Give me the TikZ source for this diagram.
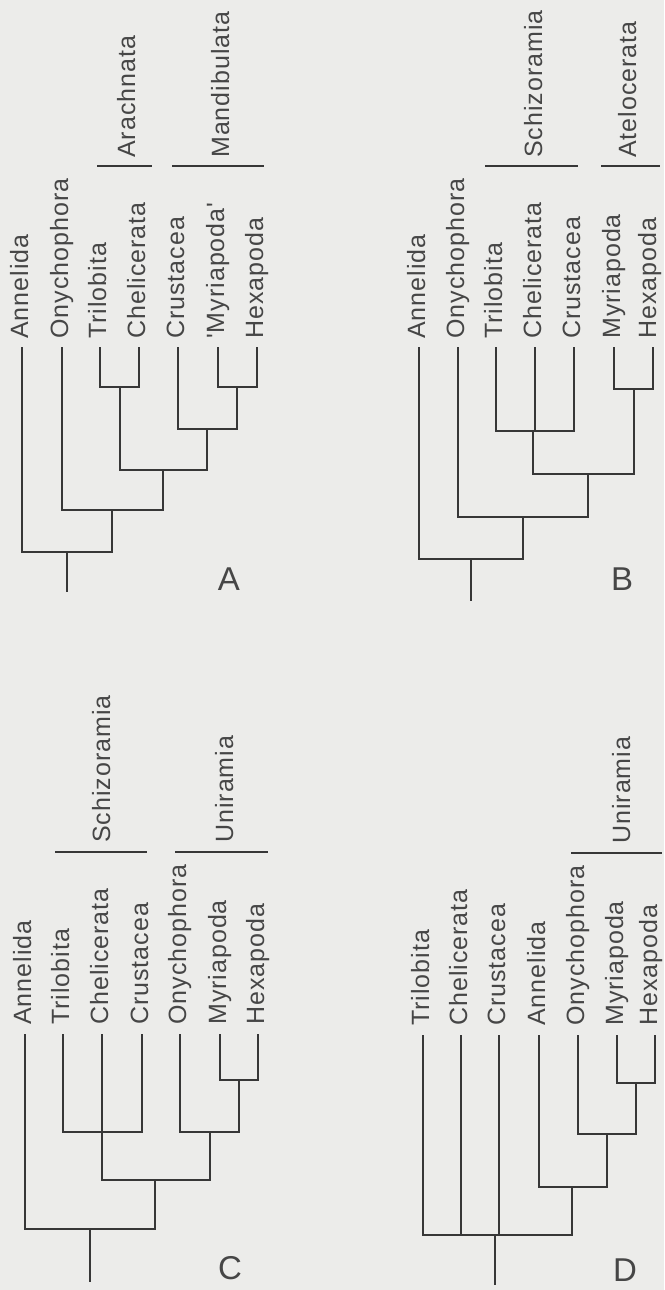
\documentclass[tikz,border=0pt]{standalone}
\usepackage{fontspec}
\newfontfamily\labfont[LetterSpace=4]{Liberation Sans}
\newfontfamily\letfont{Liberation Sans}
\definecolor{paper}{RGB}{236,236,234}
\definecolor{ink}{RGB}{55,55,55}
\definecolor{txt}{RGB}{70,70,70}
\tikzset{
  branch/.style={draw=ink, line width=1.9pt},
  barline/.style={draw=ink, line width=1.9pt},
  tiplab/.style={rotate=90, anchor=base west, inner sep=0pt, text=txt,
    font=\labfont\fontsize{25}{30}\selectfont},
  panel/.style={inner sep=0pt, text=txt, font=\letfont\fontsize{33}{38}\selectfont}
}
\begin{document}
\begin{tikzpicture}[x=1pt,y=-1pt]
\fill[paper] (0,0) rectangle (664,1290);
\useasboundingbox (0,0) rectangle (664,1290);

% ================= Panel A =================
\foreach \n/\x/\o/\t in {aA/22/6/Annelida, aO/62/6/Onychophora, aT/100/6/Trilobita,
  aC/139/6/Chelicerata, aCr/178/6/Crustacea, aM/218/6/{'Myriapoda'}, aH/257/6/Hexapoda}{
  \coordinate (\n) at (\x,347);
  \node[tiplab] (l\n) at (\x+\o,339) {\t};
}
\coordinate (a1) at (120,387);
\coordinate (a2) at (237,387);
\coordinate (a3) at (207,429);
\coordinate (a4) at (163,470);
\coordinate (a5) at (112,510);
\coordinate (a6) at (67,552);
\coordinate (ar) at (67,592);
\draw[branch] (aT) |- (a1) -| (aC);
\draw[branch] (aM) |- (a2) -| (aH);
\draw[branch] (aCr) |- (a3) -| (a2);
\draw[branch] (a1) |- (a4) -| (a3);
\draw[branch] (aO) |- (a5) -| (a4);
\draw[branch] (aA) |- (a6) -| (a5);
\draw[branch] (a6) -- (ar);
\coordinate (ab1s) at (97,166); \coordinate (ab1e) at (152,166);
\coordinate (ab2s) at (172,166); \coordinate (ab2e) at (264,166);
\draw[barline] (ab1s) -- (ab1e);
\draw[barline] (ab2s) -- (ab2e);
\node[tiplab] (gA1) at (135,158) {Arachnata};
\node[tiplab] (gA2) at (229,158) {Mandibulata};
\node[panel] (pA) at (229,579) {A};

% ================= Panel B =================
\foreach \n/\x/\o/\t in {bA/419/6/Annelida, bO/458/6/Onychophora, bT/496/6/Trilobita,
  bC/535/6/Chelicerata, bCr/574/6/Crustacea, bM/614/6/Myriapoda, bH/653/3/Hexapoda}{
  \coordinate (\n) at (\x,347);
  \node[tiplab] (l\n) at (\x+\o,339) {\t};
}
\coordinate (b1) at (634,389);
\coordinate (b2) at (533,431);
\coordinate (b3) at (588,474);
\coordinate (b4) at (523,517);
\coordinate (b5) at (471,559);
\coordinate (br) at (471,601);
\draw[branch] (bM) |- (b1) -| (bH);
\draw[branch] (bT) |- (b2) -| (bCr);
\draw[branch] (bC) -- (bC |- b2);
\draw[branch] (b2) |- (b3) -| (b1);
\draw[branch] (bO) |- (b4) -| (b3);
\draw[branch] (bA) |- (b5) -| (b4);
\draw[branch] (b5) -- (br);
\coordinate (bb1s) at (485,166); \coordinate (bb1e) at (578,166);
\coordinate (bb2s) at (601,166); \coordinate (bb2e) at (660,166);
\draw[barline] (bb1s) -- (bb1e);
\draw[barline] (bb2s) -- (bb2e);
\node[tiplab] (gB1) at (542,158) {Schizoramia};
\node[tiplab] (gB2) at (636,158) {Atelocerata};
\node[panel] (pB) at (622,579) {B};

% ================= Panel C =================
\foreach \n/\x/\o/\t in {cA/25/6/Annelida, cT/63/6/Trilobita, cC/102/6/Chelicerata,
  cCr/142/6/Crustacea, cO/180/6/Onychophora, cM/220/6/Myriapoda, cH/258/6/Hexapoda}{
  \coordinate (\n) at (\x,1034);
  \node[tiplab] (l\n) at (\x+\o,1025) {\t};
}
\coordinate (c1) at (239,1080);
\coordinate (c2) at (102,1132);
\coordinate (c3) at (210,1132);
\coordinate (c4) at (155,1180);
\coordinate (c5) at (90,1229);
\coordinate (cr) at (90,1282);
\draw[branch] (cM) |- (c1) -| (cH);
\draw[branch] (cT) |- (c2) -| (cCr);
\draw[branch] (cO) |- (c3) -| (c1);
\draw[branch] (cC) |- (c4) -| (c3);
\draw[branch] (cA) |- (c5) -| (c4);
\draw[branch] (c5) -- (cr);
\coordinate (cb1s) at (55,852); \coordinate (cb1e) at (147,852);
\coordinate (cb2s) at (175,852); \coordinate (cb2e) at (268,852);
\draw[barline] (cb1s) -- (cb1e);
\draw[barline] (cb2s) -- (cb2e);
\node[tiplab] (gC1) at (110,843) {Schizoramia};
\node[tiplab] (gC2) at (233,843) {Uniramia};
\node[panel] (pC) at (230,1268) {C};

% ================= Panel D =================
\foreach \n/\x/\o/\t in {dT/423/6/Trilobita, dC/461/6/Chelicerata, dCr/499/6/Crustacea,
  dA/539/6/Annelida, dO/578/6/Onychophora, dM/617/6/Myriapoda, dH/655/2/Hexapoda}{
  \coordinate (\n) at (\x,1035);
  \node[tiplab] (l\n) at (\x+\o,1026) {\t};
}
\coordinate (d1) at (636,1083);
\coordinate (d2) at (607,1134);
\coordinate (d3) at (572,1187);
\coordinate (d4) at (495,1235);
\coordinate (dr) at (495,1285);
\draw[branch] (dM) |- (d1) -| (dH);
\draw[branch] (dO) |- (d2) -| (d1);
\draw[branch] (dA) |- (d3) -| (d2);
\draw[branch] (dT) |- (d4) -| (d3);
\draw[branch] (dC) -- (dC |- d4);
\draw[branch] (dCr) -- (dCr |- d4);
\draw[branch] (d4) -- (dr);
\coordinate (db1s) at (571,853); \coordinate (db1e) at (662,853);
\draw[barline] (db1s) -- (db1e);
\node[tiplab] (gD1) at (630,844) {Uniramia};
\node[panel] (pD) at (625,1270) {D};
\end{tikzpicture}
\end{document}
